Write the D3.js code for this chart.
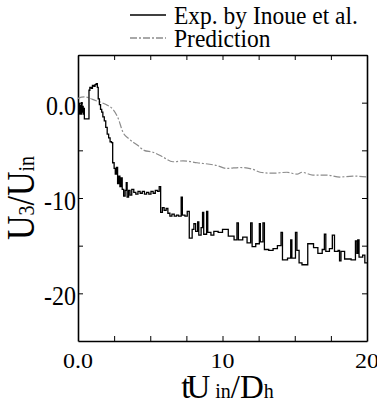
<!DOCTYPE html>
<html>
<head>
<meta charset="utf-8">
<script src="https://cdn.jsdelivr.net/npm/d3@7"></script>
<style>
  body { margin: 0; background: #fff; }
</style>
</head>
<body>
<div id="chart"></div>
<script>
const expData = [
  [0.00,-0.2],[0.04,-1.1],[0.08,-0.1],[0.12,-1.2],[0.16,-0.3],[0.20,-1.2],[0.24,0.0],[0.28,-1.0],[0.32,-0.4],[0.36,-1.2],[0.40,-0.6],
  [0.44,-1.7],[0.76,1.3],[0.82,1.6],[0.92,1.5],[1.00,1.8],[1.10,1.7],[1.18,1.9],[1.26,2.0],[1.34,1.6],[1.40,0.4],[1.48,-0.2],
  [1.56,-0.7],[1.64,-1.0],[1.72,-1.5],[1.82,-1.9],[1.92,-2.6],[2.02,-3.3],[2.12,-3.7],[2.22,-4.1],[2.32,-4.2],[2.40,-6.3],
  [2.50,-6.9],[2.58,-7.5],[2.66,-6.8],[2.74,-8.5],[2.82,-7.7],[2.90,-8.8],[2.98,-7.9],[3.06,-9.1],[3.16,-9.8],[3.26,-9.2],
  [3.34,-8.4],[3.40,-9.9],[3.50,-9.2],[3.60,-9.7],[3.72,-9.1],[3.86,-9.4],[4.00,-9.6],[4.15,-9.3],[4.30,-9.5],[4.45,-9.3],
  [4.60,-9.6],[4.75,-9.4],[4.90,-9.6],[5.05,-9.3],[5.20,-9.5],[5.35,-9.2],[5.50,-9.3],[5.62,-8.8],[5.72,-11.5],[5.84,-11.0],
  [5.96,-11.3],[6.10,-11.1],[6.22,-11.6],[6.36,-11.9],[6.50,-11.7],[6.66,-11.9],[6.82,-11.8],[6.96,-11.9],[7.14,-9.9],
  [7.22,-11.8],[7.40,-11.9],[7.56,-11.4],[7.70,-14.2],[7.90,-13.3],[8.02,-12.7],[8.14,-13.5],[8.28,-12.5],[8.36,-13.9],
  [8.52,-13.1],[8.62,-11.5],[8.70,-13.8],[8.90,-11.4],[8.98,-13.6],[9.20,-13.9],[9.40,-13.5],[9.70,-13.6],[10.00,-13.3],
  [10.40,-14.0],[10.80,-14.4],[11.00,-12.6],[11.10,-14.4],[11.40,-14.1],[11.70,-14.7],[11.95,-12.6],[12.05,-15.1],
  [12.30,-14.8],[12.55,-12.7],[12.62,-14.6],[12.80,-12.6],[12.90,-15.4],[13.20,-15.5],[13.50,-15.3],[13.80,-15.0],
  [14.05,-13.6],[14.15,-16.5],[14.50,-16.3],[14.72,-14.4],[14.80,-16.3],[15.05,-13.6],[15.15,-15.5],[15.30,-16.8],
  [15.50,-17.0],[15.90,-14.8],[16.30,-15.2],[16.60,-15.8],[16.90,-15.4],[17.05,-13.8],[17.15,-15.6],[17.40,-15.3],
  [17.60,-13.9],[17.75,-15.6],[18.00,-15.5],[18.10,-16.6],[18.20,-15.6],[18.45,-16.4],[18.90,-16.5],[19.20,-14.5],
  [19.30,-15.8],[19.36,-14.4],[19.45,-16.2],[19.70,-16.0],[19.85,-16.8],[20.00,-16.8]
];

// prediction curve
const predData = [
  [0,0.4],[0.07,0.5],[0.42,0.6],[1.25,0.2],[1.94,-0.2],[2.42,-0.7],[2.77,-1.6],[3.11,-3.1],[3.53,-3.8],[4.15,-4.5],
  [4.57,-5.0],[5.19,-5.2],[5.88,-5.7],[6.57,-6.2],[7.27,-6.1],[8.24,-6.3],[9.62,-6.6],[10.31,-6.9],[11.21,-6.8],
  [12.11,-7.0],[12.6,-7.3],[13.5,-7.4],[14.46,-7.3],[15.16,-7.5],[15.5,-7.3],[16.26,-7.6],[17.23,-7.6],[18.13,-7.8],
  [19.03,-7.7],[20,-7.8]
];

const xTicks = [0, 2.5, 5, 7.5, 10, 12.5, 15, 17.5, 20];
const xLabels = {0: "0.0", 10: "10", 20: "20"};
const yTicks = [0, -5, -10, -15, -20];
const yLabels = {0: "0.0", "-10": "-10", "-20": "-20"};

const width = 377, height = 403;
const margin = {left: 78, right: 10, top: 55, bottom: 62};
const serif = '"Liberation Serif"';

const svg = d3.select("#chart").append("svg")
    .attr("width", width)
    .attr("height", height);

const x = d3.scaleLinear().domain([0, 20]).range([margin.left, width - margin.right]);
const y = d3.scaleLinear().domain([-25, 5]).range([height - margin.bottom, margin.top]);

svg.append("clipPath").attr("id", "clip")
  .append("rect")
    .attr("x", x(0)).attr("y", y(5))
    .attr("width", x(20) - x(0)).attr("height", y(-25) - y(5));

//axes, ticks pointing inside
const tick = 5;
svg.append("g")
    .attr("transform", `translate(0,${y(-25)})`)
    .call(d3.axisBottom(x).tickValues(xTicks).tickSizeInner(-tick).tickSizeOuter(0).tickFormat(""));
svg.append("g")
    .attr("transform", `translate(0,${y(5)})`)
    .call(d3.axisTop(x).tickValues(xTicks).tickSizeInner(-tick).tickSizeOuter(0).tickFormat(""));
svg.append("g")
    .attr("transform", `translate(${x(0)},0)`)
    .call(d3.axisLeft(y).tickValues(yTicks).tickSizeInner(-tick).tickSizeOuter(0).tickFormat(""));
svg.append("g")
    .attr("transform", `translate(${x(20)},0)`)
    .call(d3.axisRight(y).tickValues(yTicks).tickSizeInner(-tick).tickSizeOuter(0).tickFormat(""));
svg.selectAll(".domain").attr("stroke", "#000").attr("stroke-width", 1.6);
svg.selectAll(".tick line").attr("stroke", "#000").attr("stroke-width", 1);

//tick labels
xTicks.filter(d => xLabels[d] !== undefined).forEach(d => {
  svg.append("text")
      .attr("transform", `translate(${x(d)},${y(-25) + 27}) scale(1,0.9)`)
      .attr("text-anchor", "middle")
      .style("font-family", serif)
      .style("font-size", "24px")
      .text(xLabels[d]);
});
yTicks.filter(d => yLabels[d] !== undefined).forEach(d => {
  svg.append("text")
      .attr("transform", `translate(${x(0) - 2},${y(d) + 12}) scale(1,1.1)`)
      .attr("text-anchor", "end")
      .style("font-family", serif)
      .style("font-size", "24px")
      .text(yLabels[d]);
});

//axis titles
const xt = svg.append("text")
    .attr("transform", `translate(${x(10) + 5},${height - 5})`)
    .attr("text-anchor", "middle")
    .style("font-family", serif)
    .style("font-size", "33px");
xt.append("tspan").text("t");
xt.append("tspan").attr("dx", -4).text("U");
xt.append("tspan").style("font-size", "20px").text(" in");
xt.append("tspan").text("/D");
xt.append("tspan").style("font-size", "20px").text("h");

const yt = svg.append("text")
    .attr("transform", `translate(34,${y(-10)}) rotate(-90) scale(1,1.15)`)
    .attr("text-anchor", "middle")
    .style("font-family", serif)
    .style("font-size", "34px");
yt.append("tspan").text("U");
yt.append("tspan").style("font-size", "20px").text("3");
yt.append("tspan").text("/U");
yt.append("tspan").style("font-size", "20px").text("in");

//lines
svg.append("path")
    .datum(predData)
    .attr("clip-path", "url(#clip)")
    .attr("fill", "none")
    .attr("stroke", "#8c8c8c")
    .attr("stroke-width", 1.2)
    .attr("stroke-dasharray", "7,2,2,2")
    .attr("d", d3.line().x(d => x(d[0])).y(d => y(d[1])).curve(d3.curveMonotoneX));
svg.append("path")
    .datum(expData)
    .attr("clip-path", "url(#clip)")
    .attr("fill", "none")
    .attr("stroke", "#000")
    .attr("stroke-width", 1.3)
    .attr("d", d3.line().x(d => x(d[0])).y(d => y(d[1])).curve(d3.curveStepAfter));

//legend
const legend = [
  {label: "Exp. by Inoue et al.", color: "#000", dash: null, y: 15},
  {label: "Prediction", color: "#8c8c8c", dash: "7,2,2,2", y: 38}
];
legend.forEach(l => {
  svg.append("line")
      .attr("x1", 130).attr("x2", 166)
      .attr("y1", l.y).attr("y2", l.y)
      .attr("stroke", l.color)
      .attr("stroke-width", 1.3)
      .attr("stroke-dasharray", l.dash);
  svg.append("text")
      .attr("transform", `translate(174,${l.y + 9}) scale(1,1.1)`)
      .style("font-family", serif)
      .style("font-size", "23.5px")
      .text(l.label);
});
</script>
</body>
</html>
